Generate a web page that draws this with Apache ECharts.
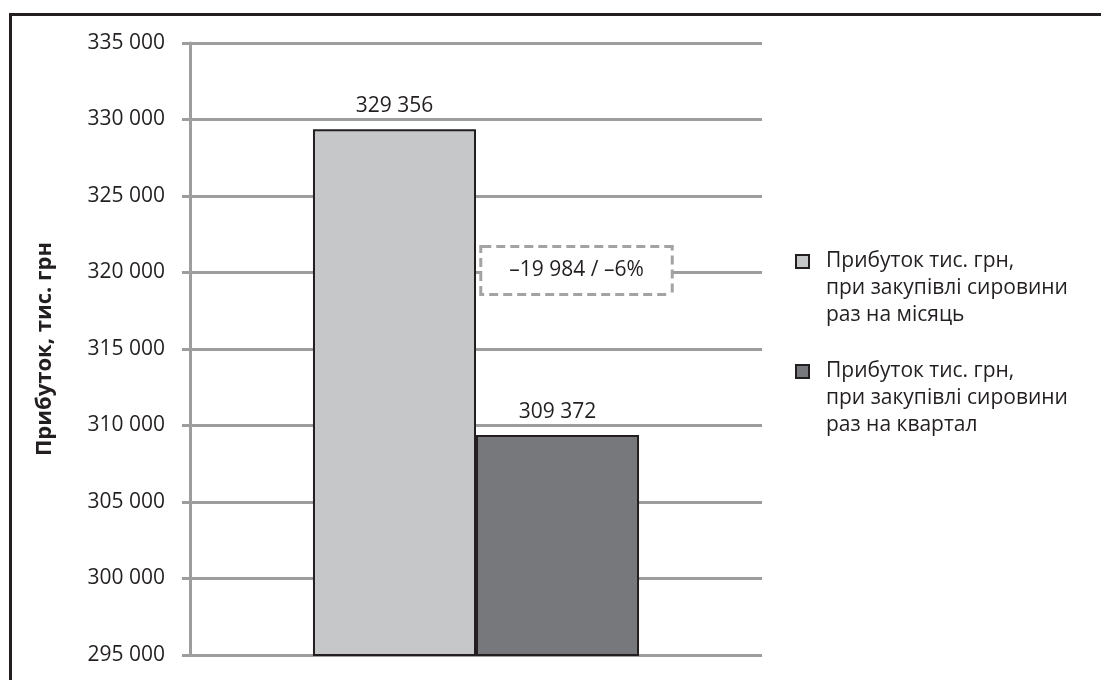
<!DOCTYPE html>
<html>
<head>
<meta charset="utf-8">
<script src="https://cdn.jsdelivr.net/npm/echarts@6/dist/echarts.min.js"></script>
<style>
html,body{margin:0;padding:0;background:#fff;}
#chart{width:1101px;height:680px;}
</style>
</head>
<body>
<div id="chart"></div>
<script>
const categories = [''];
const seriesNames = [
  'Прибуток тис. грн,\nпри закупівлі сировини\nраз на місяць',
  'Прибуток тис. грн,\nпри закупівлі сировини\nраз на квартал'
];
const monthlyValues = [329356];
const quarterlyValues = [309372];
const yTicks = { min: 295000, max: 335000, interval: 5000 };
const yAxisTitle = 'Прибуток, тис. грн';

const FONT = 'Open Sans';
const TEXT = '#231f20';
const GRID = '#9d9d9e';

function fmt(v) {
  const s = Math.abs(Math.round(v)).toString().replace(/\B(?=(\d{3})+(?!\d))/g, ' ');
  return (v < 0 ? '–' : '') + s;
}
const diff = quarterlyValues[0] - monthlyValues[0];
const pct = Math.round(diff / monthlyValues[0] * 100);
const annotation = fmt(diff) + ' / ' + (pct < 0 ? '–' : '') + Math.abs(pct) + '%';

const chart = echarts.init(document.getElementById('chart'), null, { renderer: 'canvas' });
chart.setOption({
  animation: false,
  backgroundColor: '#fff',
  textStyle: { fontFamily: FONT, color: TEXT },
  graphic: [{
    type: 'rect',
    left: 8, top: 12,
    shape: { width: 1200, height: 800 },
    style: { fill: 'none', stroke: '#231f20', lineWidth: 3 },
    silent: true, z: 100
  }],
  grid: { left: 190, right: 339, top: 43, bottom: 25 },
  legend: {
    orient: 'vertical',
    left: 790,
    top: 189,
    itemWidth: 13,
    itemHeight: 13,
    itemGap: -25,
    icon: 'rect',
    formatter: name => '\n\n' + name,
    textStyle: {
      fontFamily: FONT, fontSize: 21, color: TEXT,
      lineHeight: 27,
      padding: [0, 0, 0, 12]
    },
    data: seriesNames
  },
  xAxis: {
    type: 'category',
    data: categories,
    axisLine: { show: false },
    axisTick: { show: false },
    axisLabel: { show: false }
  },
  yAxis: {
    type: 'value',
    min: yTicks.min, max: yTicks.max, interval: yTicks.interval,
    name: yAxisTitle,
    nameLocation: 'middle',
    nameRotate: 90,
    nameGap: 134,
    nameTextStyle: { fontFamily: FONT, fontSize: 22, fontWeight: 'bold', color: TEXT },
    axisLine: { show: true, lineStyle: { color: GRID, width: 3 } },
    axisTick: { show: true, length: 8, lineStyle: { color: GRID, width: 3 } },
    axisLabel: { formatter: fmt, fontFamily: FONT, fontSize: 21, color: TEXT, margin: 25 },
    splitLine: { show: true, lineStyle: { color: GRID, width: 3 } }
  },
  series: [
    {
      name: seriesNames[0],
      type: 'bar',
      data: monthlyValues,
      barGap: '0%',
      barCategoryGap: '43%',
      itemStyle: { color: '#c6c7c8', borderColor: '#231f20', borderWidth: 2 },
      label: { show: true, position: 'top', distance: 13, formatter: p => fmt(p.value), fontFamily: FONT, fontSize: 21, color: TEXT }
    },
    {
      name: seriesNames[1],
      type: 'bar',
      data: quarterlyValues,
      itemStyle: { color: '#77787b', borderColor: '#231f20', borderWidth: 2 },
      label: { show: true, position: 'top', distance: 13, formatter: p => fmt(p.value), fontFamily: FONT, fontSize: 21, color: TEXT },
      markPoint: {
        symbol: 'rect',
        symbolSize: 1,
        itemStyle: { color: 'rgba(0,0,0,0)' },
        label: {
          show: true,
          position: 'inside',
          offset: [19, -2],
          formatter: annotation,
          fontFamily: FONT, fontSize: 21, color: TEXT,
          lineHeight: 27,
          backgroundColor: '#fff',
          borderColor: '#a3a3a4',
          borderWidth: 3,
          borderType: [9, 5],
          padding: [9, 27, 9, 27]
        },
        data: [{ coord: [0, 320000] }]
      }
    }
  ]
});
</script>
</body>
</html>
